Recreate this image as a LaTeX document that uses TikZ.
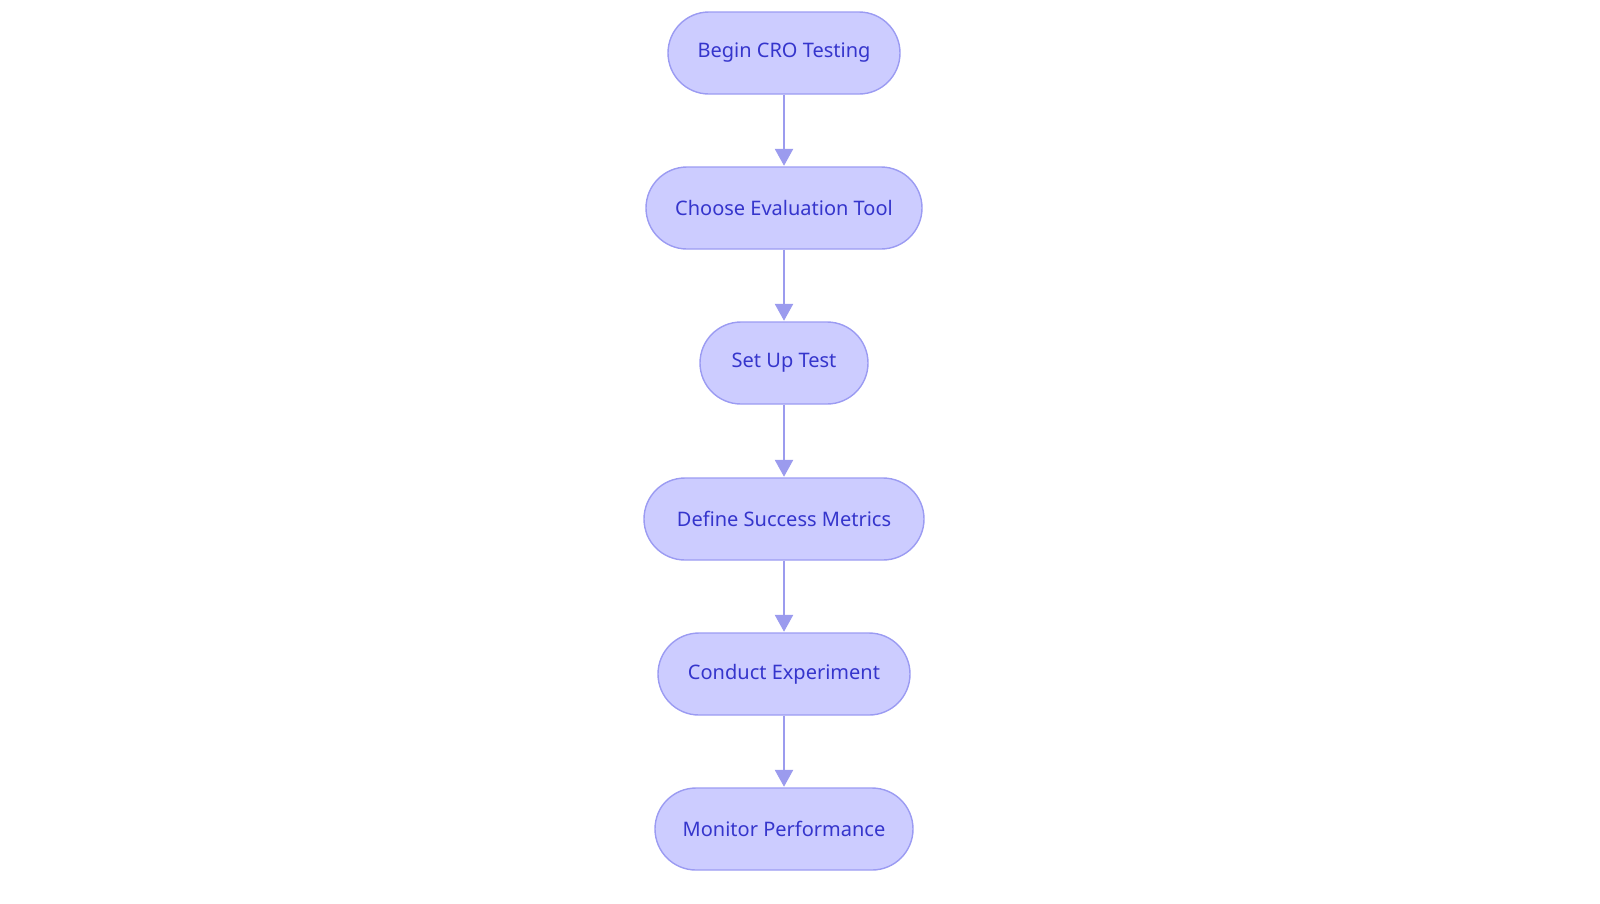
\documentclass[tikz,border=0pt]{standalone}
\usepackage{fontspec}
\setmainfont{Noto Sans}
\usetikzlibrary{arrows.meta}
\definecolor{nodefill}{HTML}{CCCCFF}
\definecolor{nodeborder}{HTML}{9B9BF2}
\definecolor{nodetext}{HTML}{3535CC}
\definecolor{arrowcol}{HTML}{9B9BEE}
\begin{document}
\begin{tikzpicture}[x=1pt,y=-1pt,
  stepbox/.style={draw=nodeborder, fill=nodefill, line width=1.4pt, rounded corners=41pt,
    minimum height=82pt, inner sep=0pt, text=nodetext, font=\fontsize{20}{24}\selectfont},
  flow/.style={draw=arrowcol, line width=2.6pt, -{Triangle[length=17pt,width=18pt]}, shorten >=0.5pt}]
\useasboundingbox (0,0) rectangle (1600,903);
\node[stepbox, minimum width=232pt] (n1) at (784,53) {Begin CRO Testing};
\node[stepbox, minimum width=276pt] (n2) at (784,208) {Choose Evaluation Tool};
\node[stepbox, minimum width=168pt] (n3) at (784,363) {Set Up Test};
\node[stepbox, minimum width=280pt] (n4) at (784,519) {Define Success Metrics};
\node[stepbox, minimum width=252pt] (n5) at (784,674) {Conduct Experiment};
\node[stepbox, minimum width=258pt] (n6) at (784,829) {Monitor Performance};
\draw[flow] (n1) -- (n2);
\draw[flow] (n2) -- (n3);
\draw[flow] (n3) -- (n4);
\draw[flow] (n4) -- (n5);
\draw[flow] (n5) -- (n6);
\end{tikzpicture}
\end{document}
